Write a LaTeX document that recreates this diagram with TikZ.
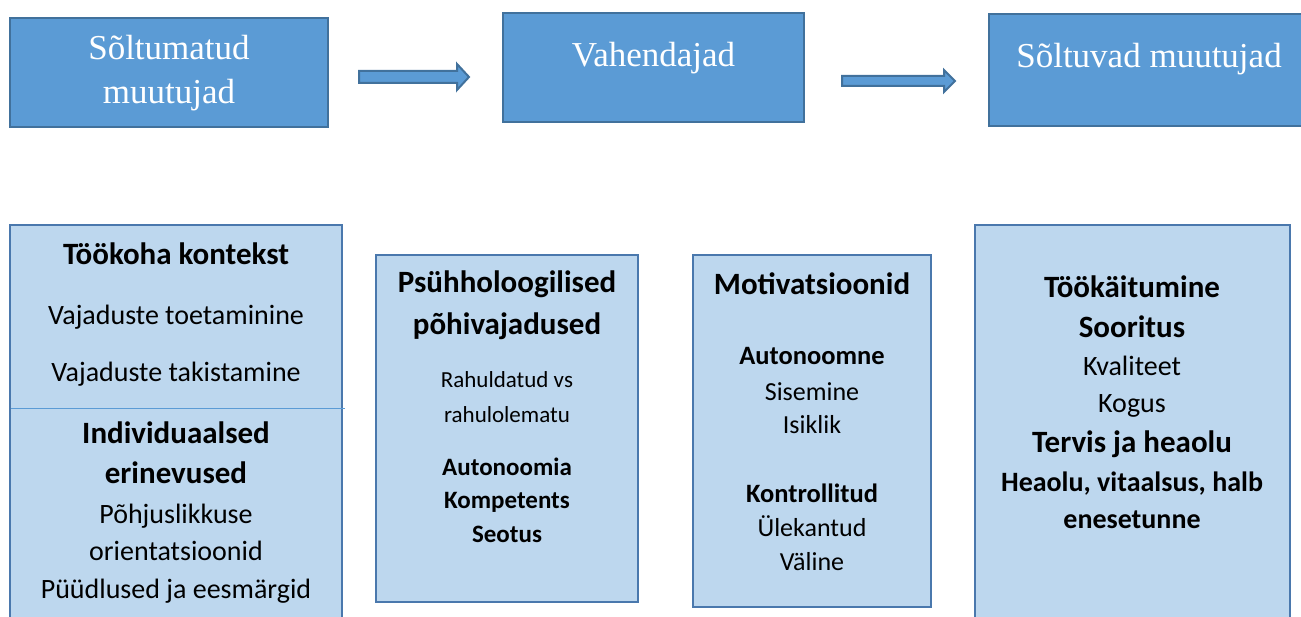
\documentclass[tikz,border=0pt]{standalone}
\usepackage{fontspec}
\setmainfont{Liberation Serif}
\newfontfamily\carl{Carlito}
\definecolor{topfill}{HTML}{5B9BD5}
\definecolor{topedge}{HTML}{41719C}
\definecolor{botfill}{HTML}{BDD7EE}
\definecolor{botedge}{HTML}{4A78AD}
\definecolor{divline}{HTML}{5B9BD5}
\newcommand\myfs[1]{\fontsize{#1}{#1}\selectfont}
\tikzset{
  topbox/.style={draw=topedge, fill=topfill, line width=2.4pt, inner sep=0pt},
  botbox/.style={draw=botedge, fill=botfill, line width=2pt, inner sep=0pt},
  blockarrow/.style={draw=topedge, fill=topfill, line width=2pt, line join=miter},
  ttl/.style={anchor=base, text=white, inner sep=0pt, font=\myfs{35}},
  hd/.style={anchor=base, inner sep=0pt, font=\carl\bfseries\myfs{31}},
  txA/.style={anchor=base, inner sep=0pt, font=\carl\myfs{28}},
  bdA/.style={anchor=base, inner sep=0pt, font=\carl\bfseries\myfs{31}},
  txB/.style={anchor=base, inner sep=0pt, font=\carl\myfs{23}},
  bdB/.style={anchor=base, inner sep=0pt, font=\carl\bfseries\myfs{25}},
  txC/.style={anchor=base, inner sep=0pt, font=\carl\myfs{26}},
  bdC/.style={anchor=base, inner sep=0pt, font=\carl\bfseries\myfs{26.5}},
  txD/.style={anchor=base, inner sep=0pt, font=\carl\myfs{28}},
  bdD/.style={anchor=base, inner sep=0pt, font=\carl\bfseries\myfs{28}}
}
\begin{document}
\begin{tikzpicture}[x=1pt,y=-1pt]
\useasboundingbox (0,0) rectangle (1301,617);
\clip (0,0) rectangle (1301,617);
% top boxes
\node[topbox, minimum width=318, minimum height=109] (b1) at (169,72.5) {};
\node[topbox, minimum width=301, minimum height=109] (b2) at (653.5,67.5) {};
\node[topbox, minimum width=320, minimum height=112] (b3) at (1149,70) {};
\node[ttl] (t1a) at (169,60) {Sõltumatud};
\node[ttl] (t1b) at (169,104) {muutujad};
\node[ttl] (t2) at (653.5,67) {Vahendajad};
\node[ttl] (t3) at (1149,68) {Sõltuvad muutujad};
% block arrows
\draw[blockarrow] (359,71) -- (457,71) -- (457,64) -- (469,77) -- (457,90) -- (457,83) -- (359,83) -- cycle;
\draw[blockarrow] (842,76) -- (944,76) -- (944,70) -- (955,81) -- (944,92) -- (944,86) -- (842,86) -- cycle;
% bottom boxes
\node[botbox, minimum width=332, minimum height=405] (bA) at (176,427.5) {};
\node[botbox, minimum width=262, minimum height=347] (bB) at (507,428.5) {};
\node[botbox, minimum width=238, minimum height=352] (bC) at (812,431) {};
\node[botbox, minimum width=315, minimum height=405] (bD) at (1132.5,427.5) {};
\draw[divline, line width=1pt] (11,408) -- (345,408);
% box A texts
\node[hd]  (a1) at (176,265) {Töökoha kontekst};
\node[txA] (a2) at (176,325) {Vajaduste toetaminine};
\node[txA] (a3) at (176,382) {Vajaduste takistamine};
\node[bdA] (a4) at (176,443) {Individuaalsed};
\node[bdA] (a5) at (176,483) {erinevused};
\node[txA] (a6) at (176,523) {Põhjuslikkuse};
\node[txA] (a7) at (176,560) {orientatsioonid};
\node[txA] (a8) at (176,598) {Püüdlused ja eesmärgid};
% box B texts
\node[hd]  (p1) at (507,293) {Psühholoogilised};
\node[hd]  (p2) at (507,335) {põhivajadused};
\node[txB] (p3) at (507,388) {Rahuldatud vs};
\node[txB] (p4) at (507,422) {rahulolematu};
\node[bdB] (p5) at (507,475) {Autonoomia};
\node[bdB] (p6) at (507,508) {Kompetents};
\node[bdB] (p7) at (507,542) {Seotus};
% box C texts
\node[hd]  (m1) at (812,295) {Motivatsioonid};
\node[bdC] (m2) at (812,365) {Autonoomne};
\node[txC] (m3) at (812,400) {Sisemine};
\node[txC] (m4) at (812,433) {Isiklik};
\node[bdC] (m5) at (812,502) {Kontrollitud};
\node[txC] (m6) at (812,536) {Ülekantud};
\node[txC] (m7) at (812,570) {Väline};
% box D texts
\node[hd]  (d1) at (1132,298) {Töökäitumine};
\node[hd]  (d2) at (1132,338) {Sooritus};
\node[txD] (d3) at (1132,376) {Kvaliteet};
\node[txD] (d4) at (1132,413) {Kogus};
\node[hd]  (d5) at (1132,452) {Tervis ja heaolu};
\node[bdD] (d6) at (1132,491) {Heaolu, vitaalsus, halb};
\node[bdD] (d7) at (1132,528) {enesetunne};
\end{tikzpicture}
\end{document}
